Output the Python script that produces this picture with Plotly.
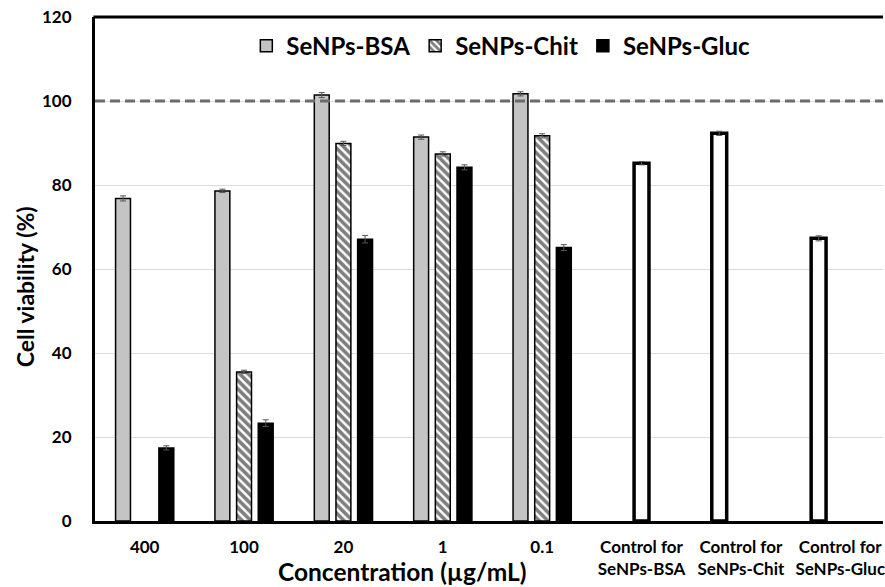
import plotly.graph_objects as go

categories = ["400", "100", "20", "1", "0.1",
              "Control for<br>SeNPs-BSA", "Control for<br>SeNPs-Chit", "Control for<br>SeNPs-Gluc"]
conc = categories[:5]
controls = categories[5:]

bsa = [76.8, 78.6, 101.4, 91.4, 101.7]
bsa_err = [0.6, 0.4, 0.6, 0.5, 0.5]
chit = [None, 35.5, 89.9, 87.4, 91.7]
chit_err = [0, 0.4, 0.5, 0.5, 0.5]
gluc = [17.4, 23.3, 67.1, 84.2, 65.1]
gluc_err = [0.5, 0.8, 0.9, 0.6, 0.7]
ctrl = [85.2, 92.3, 67.3]
ctrl_err = [0.4, 0.5, 0.6]

FONT = "Lato"
W = 0.15
SLOT = 0.218
err_style = dict(type="data", color="#555555", thickness=1, width=3)

fig = go.Figure()
fig.add_trace(go.Bar(
    name="<b>SeNPs-BSA</b>", x=conc, y=bsa, width=W, offset=-SLOT - W / 2,
    marker=dict(color="#c4c4c4", line=dict(color="black", width=1.5)),
    error_y=dict(array=bsa_err, **err_style)))
fig.add_trace(go.Bar(
    name="<b>SeNPs-Chit</b>", x=conc, y=chit, width=W, offset=-W / 2,
    marker=dict(color="white", line=dict(color="black", width=1.5),
                pattern=dict(shape="\\", fgcolor="black", bgcolor="white", size=6, solidity=0.6)),
    error_y=dict(array=chit_err, **err_style)))
fig.add_trace(go.Bar(
    name="<b>SeNPs-Gluc</b>", x=conc, y=gluc, width=W, offset=SLOT - W / 2,
    marker=dict(color="black", line=dict(color="black", width=1.5)),
    error_y=dict(array=gluc_err, **err_style)))
fig.add_trace(go.Bar(
    name="Control", x=controls, y=ctrl, width=W,
    offset=[-W / 2, -SLOT - W / 2, -SLOT - W / 2],
    marker=dict(color="white", line=dict(color="black", width=3.5)),
    error_y=dict(array=ctrl_err, **err_style), showlegend=False))

fig.add_shape(type="line", xref="paper", yref="y", x0=0, x1=1, y0=100, y1=100,
              line=dict(color="#6b6b6b", width=2.8, dash="10px,5px"))
fig.add_shape(type="line", xref="paper", yref="paper", x0=-0.002, x1=1, y0=1, y1=1,
              line=dict(color="black", width=3))

fig.add_annotation(text="<b>Cell viability (%)</b>", xref="paper", yref="paper",
                   x=-0.0886, y=0.464, textangle=-90, showarrow=False,
                   xanchor="center", yanchor="middle",
                   font=dict(family=FONT, size=23, color="black"))
fig.add_annotation(text="<b>Concentration (µg/mL)</b>", xref="paper", yref="paper",
                   x=0.39, y=-0.101, showarrow=False, xanchor="center", yanchor="middle",
                   font=dict(family=FONT, size=24.5, color="black"))

fig.update_layout(
    width=885, height=587,
    margin=dict(l=95, r=0, t=17, b=66),
    barmode="overlay",
    plot_bgcolor="white", paper_bgcolor="white",
    font=dict(family=FONT, color="black"),
    legend=dict(orientation="h", x=0.515, y=0.942, xanchor="center", yanchor="middle",
                font=dict(family=FONT, size=24, color="black"),
                itemwidth=30, tracegroupgap=0, bgcolor="rgba(0,0,0,0)"),
    xaxis=dict(type="category", categoryorder="array", categoryarray=categories,
               range=[-0.5, 7.43], showline=True, linecolor="black", linewidth=2.5,
               ticks="", ticklabelstandoff=9, showgrid=False, zeroline=False,
               tickfont=dict(family=FONT, size=17, color="black")),
    yaxis=dict(range=[0, 120], tickvals=[0, 20, 40, 60, 80, 100, 120],
               ticktext=["<b>%d</b>" % v for v in [0, 20, 40, 60, 80, 100, 120]],
               showline=True, linecolor="black", linewidth=3, ticks="",
               ticklabelstandoff=17,
               showgrid=True, gridcolor="#dcdcdc", gridwidth=1.3, zeroline=False,
               tickfont=dict(family=FONT, size=17, color="black")),
)
fig.update_xaxes(ticktext=["<b>%s</b>" % c for c in categories], tickvals=categories)

fig.write_html("out.html")
